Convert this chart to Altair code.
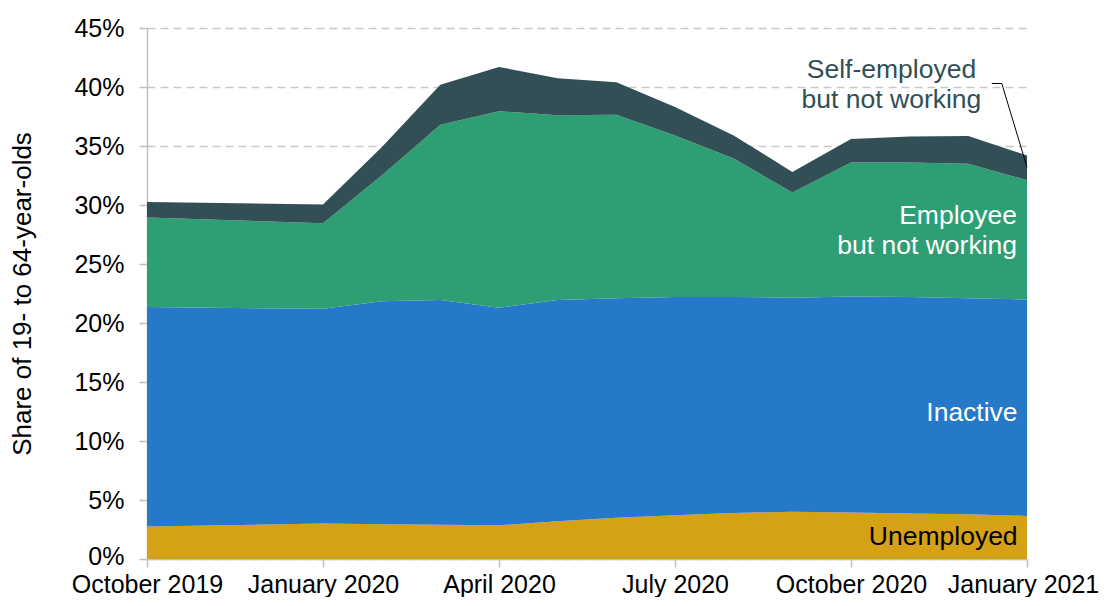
import altair as alt
import pandas as pd

# ---- data (percent of 19- to 64-year-olds) ----
month_idx = [0, 3, 4, 5, 6, 7, 8, 9, 10, 11, 12, 13, 14, 15]  # months since October 2019
tick_labels = ["October 2019", "January 2020", "April 2020", "July 2020", "October 2020", "January 2021"]

unemployed = [2.75, 3.0, 2.95, 2.9, 2.85, 3.2, 3.5, 3.7, 3.9, 4.0, 3.95, 3.85, 3.8, 3.65]
inactive = [18.6, 18.2, 18.9, 19.05, 18.45, 18.75, 18.6, 18.5, 18.3, 18.15, 18.3, 18.35, 18.3, 18.35]
employee_nw = [7.6, 7.25, 10.65, 14.85, 16.65, 15.65, 15.55, 13.7, 11.75, 8.9, 11.35, 11.4, 11.4, 10.1]
self_emp_nw = [1.3, 1.6, 2.4, 3.4, 3.75, 3.15, 2.75, 2.4, 1.95, 1.75, 2.0, 2.2, 2.35, 2.1]

series_names = ["Unemployed", "Inactive", "Employee but not working", "Self-employed but not working"]
series_colors = ["#D5A116", "#2678C8", "#2E9E74", "#324F56"]

rows = []
for order, (name, vals) in enumerate(zip(series_names, [unemployed, inactive, employee_nw, self_emp_nw])):
    for m, v in zip(month_idx, vals):
        rows.append({"idx": m, "value": v, "series": name, "order": order})
df = pd.DataFrame(rows)

# annotation labels (data coordinates)
lbl_text = ["Self-employed", "but not working", "Employee", "but not working", "Inactive", "Unemployed"]
lbl_x = [12.69, 12.69, 14.83, 14.83, 14.84, 14.84]
lbl_y = [41.4, 38.9, 29.05, 26.5, 12.35, 1.9]
lbl_group = ["self", "self", "emp", "emp", "inact", "unemp"]
labels = pd.DataFrame({"text": lbl_text, "idx": lbl_x, "value": lbl_y, "g": lbl_group})

leader_x = [14.40, 14.57, 15.0]
leader_y = [40.3, 40.3, 33.2]
leader = pd.DataFrame({"idx": leader_x, "value": leader_y, "o": [0, 1, 2]})

FONT = "Liberation Sans"
FS_TICK = 25
FS_TITLE = 26
FS_LBL = 26.5

label_expr = "[" + ",".join("'%s'" % t for t in tick_labels) + "][round(datum.value/3)]"

xscale = alt.Scale(domain=[0, 15], nice=False, zero=False)
yscale = alt.Scale(domain=[0, 45], nice=False)

areas = alt.Chart(df).mark_area(opacity=1).encode(
    x=alt.X("idx:Q", scale=xscale,
            axis=alt.Axis(values=[0, 3, 6, 9, 12, 15], labelExpr=label_expr, title=None,
                          grid=False, tickSize=8, labelPadding=5, labelFlush=False,
                          labelOverlap=False,
                          labelOffset={"condition": {"test": "datum.value == 15", "value": -4}, "value": 0})),
    y=alt.Y("value:Q", stack="zero", scale=yscale,
            axis=alt.Axis(values=list(range(0, 50, 5)), labelExpr="datum.value + '%'",
                          title="Share of 19- to 64-year-olds", grid=True,
                          gridDash=[8, 5], gridColor="#C8C8C8", gridWidth=1.5,
                          tickSize=8, labelPadding=15, titlePadding=38,
                          labelOffset={"condition": {"test": "datum.value == 0", "value": -3}, "value": 0})),
    color=alt.Color("series:N", scale=alt.Scale(domain=series_names, range=series_colors), legend=None),
    order=alt.Order("order:Q", sort="ascending"),
)

def text_layer(group, color, align):
    return alt.Chart(labels).transform_filter(alt.datum.g == group).mark_text(
        font=FONT, fontSize=FS_LBL, color=color, align=align, baseline="middle"
    ).encode(
        x=alt.X("idx:Q", scale=xscale),
        y=alt.Y("value:Q", scale=yscale),
        text="text:N",
    )

leader_line = alt.Chart(leader).mark_line(color="#000000", strokeWidth=1).encode(
    x=alt.X("idx:Q", scale=xscale),
    y=alt.Y("value:Q", scale=yscale),
    order="o:Q",
)

chart = alt.layer(
    areas,
    leader_line,
    text_layer("self", "#324F56", "center"),
    text_layer("emp", "#FFFFFF", "right"),
    text_layer("inact", "#FFFFFF", "right"),
    text_layer("unemp", "#000000", "right"),
).properties(
    width=880, height=531,
    padding={"left": 139, "top": 20, "right": 72, "bottom": 38},
    autosize=alt.AutoSizeParams(type="none"),
).configure_view(stroke=None).configure_axis(
    labelFont=FONT, titleFont=FONT, labelFontSize=FS_TICK, titleFontSize=FS_TITLE,
    labelColor="#000000", titleColor="#000000", titleFontWeight="normal",
    domainColor="#BFBFBF", domainWidth=1.5, tickColor="#BFBFBF", tickWidth=1.5,
)

chart.save("out.html", embed_options={"renderer": "svg", "actions": False})
